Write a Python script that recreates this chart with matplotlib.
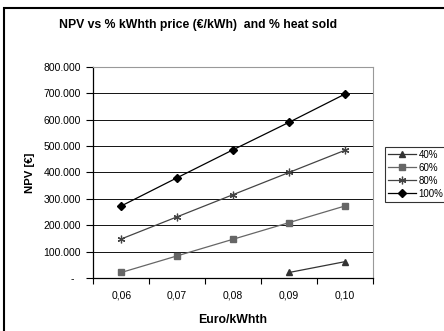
import numpy as np
import matplotlib
matplotlib.use("Agg")
import matplotlib.pyplot as plt
from matplotlib.ticker import FuncFormatter, FixedLocator

plt.rcParams['font.family'] = ['Liberation Sans', 'DejaVu Sans']

# data
prices = ["0,06", "0,07", "0,08", "0,09", "0,10"]
npv_40 = [np.nan, np.nan, np.nan, 21000, 62000]
npv_60 = [21000, 84000, 147000, 210000, 273000]
npv_80 = [148000, 232000, 316000, 400000, 484000]
npv_100 = [273000, 380000, 486000, 590000, 697000]
series_names = ["40%", "60%", "80%", "100%"]

fig = plt.figure(figsize=(4.44, 3.31), dpi=100)
ax = fig.add_axes([0.210, 0.160, 0.630, 0.638])

x = np.arange(len(prices))
ax.plot(x, npv_40, color="#333333", lw=0.9, marker="^", ms=4.5, label=series_names[0])
ax.plot(x, npv_60, color="#666666", lw=0.9, marker="s", ms=4.5, label=series_names[1])
ax.plot(x, npv_80, color="#444444", lw=0.9, marker=(6, 2, 0), ms=5.5, mew=0.9, label=series_names[2])
ax.plot(x, npv_100, color="black", lw=0.9, marker="D", ms=4, label=series_names[3])

ax.set_xlim(-0.5, len(prices) - 0.5)
ax.set_ylim(0, 800000)
ax.set_yticks(np.arange(0, 800001, 100000))

def fmt(v, pos):
    if v == 0:
        return "-  "
    return f"{int(v):,}".replace(",", ".")
ax.yaxis.set_major_formatter(FuncFormatter(fmt))

ax.set_xticks(x)
ax.set_xticklabels(prices)
ax.xaxis.set_minor_locator(FixedLocator(np.arange(-0.5, len(prices), 1)))
ax.tick_params(axis="x", which="major", length=0, pad=9, labelsize=7.5)
ax.tick_params(axis="x", which="minor", length=4, width=0.8, direction="out")
ax.tick_params(axis="y", length=5, width=0.8, direction="out", labelsize=7.5, pad=4)

ax.grid(axis="y", color="#111111", lw=0.7)
ax.set_axisbelow(True)
ax.set_facecolor("white")
for side in ["top", "right"]:
    ax.spines[side].set_color("#999999")
    ax.spines[side].set_linewidth(0.8)
for side in ["left", "bottom"]:
    ax.spines[side].set_color("black")
    ax.spines[side].set_linewidth(0.9)

ax.set_xlabel("Euro/kWhth", fontsize=8.8, fontweight="bold", labelpad=10)
ax.set_ylabel("NPV [€]", fontsize=8.2, fontweight="bold", labelpad=6)

fig.text(0.445, 0.925, "NPV vs % kWhth price (€/kWh)  and % heat sold",
         ha="center", va="center", fontsize=8.8, fontweight="bold")

leg = fig.legend(loc="upper left", bbox_to_anchor=(0.868, 0.556), fontsize=7,
                 frameon=True, fancybox=False, edgecolor="black", handlelength=2.8,
                 handletextpad=0.3, borderpad=0.3, labelspacing=0.3, borderaxespad=0)
leg.get_frame().set_linewidth(0.8)

# outer chart border
fig.patches.append(plt.Rectangle((0.008, -0.01), 1.2, 0.987, transform=fig.transFigure,
                                 fill=False, edgecolor="black", lw=1.5))

fig.savefig("out.png", dpi=100)
